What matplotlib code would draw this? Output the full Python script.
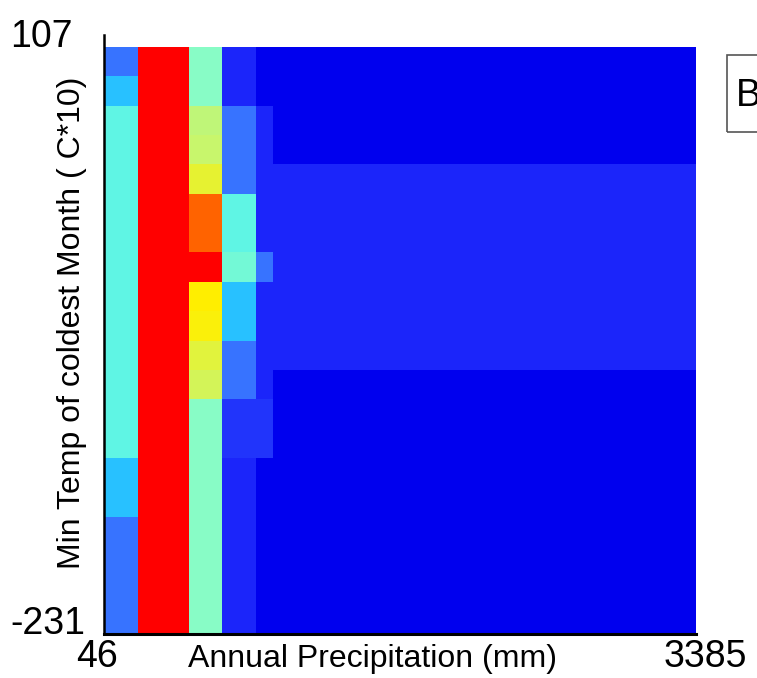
import numpy as np
import matplotlib
matplotlib.use("Agg")
import matplotlib.pyplot as plt
from matplotlib.colors import LinearSegmentedColormap
from matplotlib.patches import Rectangle
from matplotlib.transforms import ScaledTranslation

# response surface values, top row (warmest) first, 20 temperature bins
col_a = [0.2, 0.3] + [0.4] * 12 + [0.3, 0.3] + [0.2] * 4
col_b = [1.0] * 20
col_c = [0.5, 0.5, 0.58, 0.59, 0.65, 0.85, 0.85, 1.0, 0.7, 0.69, 0.64, 0.61] + [0.5] * 8
col_d = [0.1, 0.1, 0.2, 0.2, 0.2, 0.4, 0.4, 0.45, 0.3, 0.3, 0.2, 0.2, 0.12, 0.12] + [0.1] * 6
col_e = [0.0, 0.0, 0.1, 0.1, 0.1, 0.1, 0.1, 0.2, 0.1, 0.1, 0.1, 0.1, 0.12, 0.12] + [0.0] * 6
col_rest = [0.0] * 4 + [0.1] * 7 + [0.0] * 9

# precipitation bins covered by each column group
group_cols = [col_a, col_b, col_c, col_d, col_e, col_rest]
group_widths = [2, 3, 2, 2, 1, 25]

x_min, x_max = 46, 3385
y_min, y_max = -231, 107

anchors = [(0.0, (0, 0, 238)), (0.1, (28, 38, 250)), (0.2, (55, 115, 255)),
           (0.3, (40, 195, 255)), (0.4, (95, 245, 228)), (0.5, (135, 252, 200)),
           (0.6, (205, 245, 100)), (0.7, (255, 240, 0)), (0.85, (255, 100, 0)),
           (1.0, (255, 0, 0))]
cmap = LinearSegmentedColormap.from_list(
    "jetlike", [(v, tuple(c / 255 for c in rgb)) for v, rgb in anchors])

grid = np.hstack([np.repeat(np.array(c)[:, None], w, axis=1)
                  for c, w in zip(group_cols, group_widths)])
grid = grid[::-1]  # bottom row first for pcolormesh

ny, nx = grid.shape
xe = np.linspace(x_min, x_max, nx + 1)
ye = np.linspace(y_min, y_max, ny + 1)

W, H = 757, 678
fig = plt.figure(figsize=(W / 100, H / 100), dpi=100)
plt.rcParams['font.family'] = ['Liberation Sans', 'DejaVu Sans']

ax_top = 35
ax = fig.add_axes([104 / W, (H - 634) / H, (696 - 104) / W, (634 - ax_top) / H])
ax.pcolormesh(xe, ye, grid, cmap=cmap, vmin=0, vmax=1, shading='flat')

px_per_unit = (634 - 47) / (y_max - y_min)
ax.set_xlim(x_min, x_max)
ax.set_ylim(y_min, y_max + (47 - ax_top) / px_per_unit)

for s in ['top', 'right']:
    ax.spines[s].set_visible(False)
ax.spines['left'].set_linewidth(1.8)
ax.spines['bottom'].set_linewidth(2.2)

ax.set_xticks([x_min, x_max])
ax.set_xticklabels([str(x_min), str(x_max)], fontsize=27)
ax.set_yticks([y_min, y_max])
ax.set_yticklabels([str(y_min), str(y_max)], fontsize=27)
ax.tick_params(length=0)
ax.xaxis.set_tick_params(pad=24)
ax.yaxis.set_tick_params(pad=94 * 0.72)
for lbl in ax.get_yticklabels():
    lbl.set_va('baseline')
    lbl.set_ha('left')
xl = ax.get_xticklabels()
for lbl, dx in zip(xl, [-7, 9]):
    lbl.set_va('baseline')
    lbl.set_transform(lbl.get_transform() + ScaledTranslation(dx / 100, 0, fig.dpi_scale_trans))

fig.text(373 / W, (H - 667) / H, "Annual Precipitation (mm)", fontsize=23,
         ha='center', va='baseline')
fig.text(72 / W, (H - 323) / H, "Min Temp of coldest Month ( C*10)", fontsize=23,
         rotation=90, ha='center', va='center')

# legend box cut off at the right edge
fig.patches.append(Rectangle((727 / W, (H - 132) / H), 60 / W, 77 / H,
                             transform=fig.transFigure, fill=False,
                             edgecolor='#555555', linewidth=1.2))
fig.text(736 / W, (H - 106) / H, "B", fontsize=27, ha='left', va='baseline')

fig.savefig("out.png", dpi=100)
